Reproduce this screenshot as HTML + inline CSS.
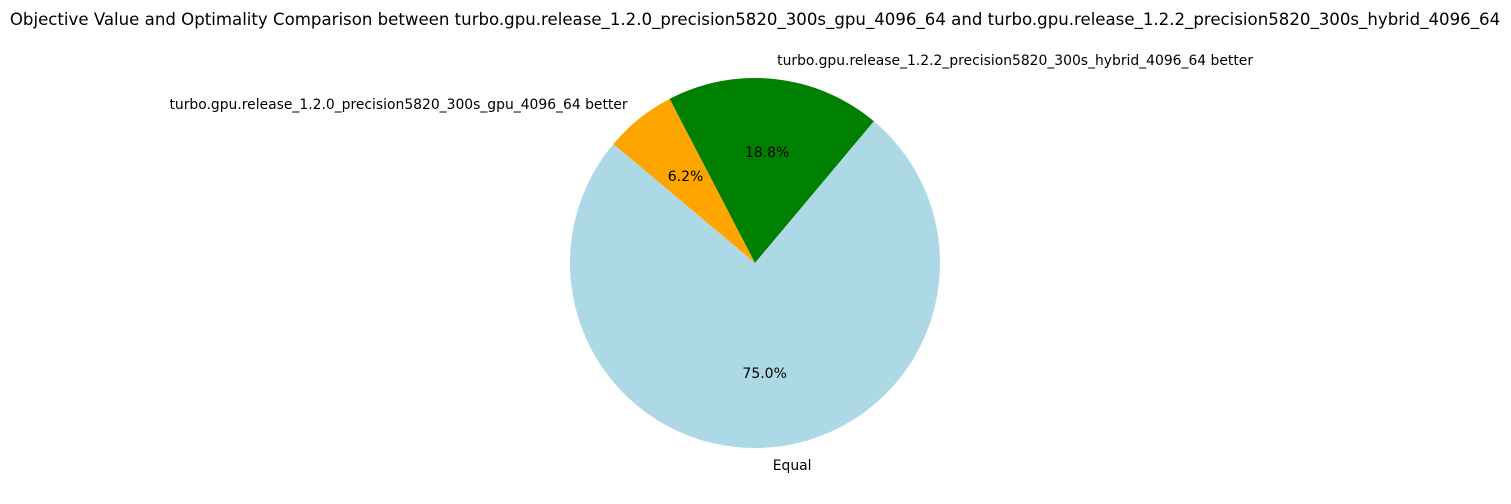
<!DOCTYPE html>
<html><head><meta charset="utf-8"><style>
html,body{margin:0;padding:0;background:#fff;}
svg{display:block;font-family:"DejaVu Sans","Liberation Sans",sans-serif;}
</style></head><body>
<svg id="chart" width="1511" height="504" viewBox="0 0 1511 504">
<text x="755" y="25" text-anchor="middle" font-size="16.6" fill="#000">Objective Value and Optimality Comparison between turbo.gpu.release_1.2.0_precision5820_300s_gpu_4096_64 and turbo.gpu.release_1.2.2_precision5820_300s_hybrid_4096_64</text>
<g id="slices"></g><g id="labels"></g>
</svg>
<script>
const categories = ["turbo.gpu.release_1.2.2_precision5820_300s_hybrid_4096_64 better","turbo.gpu.release_1.2.0_precision5820_300s_gpu_4096_64 better","Equal"];
const values = [18.75, 6.25, 75];
const colors = ["green","orange","lightblue"];
const sliceNames = ["slice-hybrid-better","slice-gpu-better","slice-equal"];
const startAngle = 50;
const cx = 755, cy = 263, r = 185;
const NS = "http://www.w3.org/2000/svg";
const slices = document.getElementById("slices"), labels = document.getElementById("labels");
const total = values.reduce((a,b)=>a+b,0);
function fmt(p){const s=p*10;const f=Math.floor(s);const d=s-f;let n;if(Math.abs(d-0.5)<1e-9){n=(f%2===0)?f:f+1;}else n=Math.round(s);return (n/10).toFixed(1)+"%";}
let a0 = startAngle;
function pt(deg, rr){const t=deg*Math.PI/180;return [cx+rr*Math.cos(t), cy-rr*Math.sin(t)];}
values.forEach((v,i)=>{
  const sweep = v/total*360, a1 = a0+sweep;
  const [x0,y0]=pt(a0,r),[x1,y1]=pt(a1,r);
  const p=document.createElementNS(NS,"path");
  p.setAttribute("d",`M${cx},${cy} L${x0},${y0} A${r},${r} 0 ${sweep>180?1:0} 0 ${x1},${y1} Z`);
  p.setAttribute("fill",colors[i]);
  
  
  slices.appendChild(p);
  const mid=(a0+a1)/2;
  const [lx,ly]=pt(mid,r*1.1);
  const t=document.createElementNS(NS,"text");
  t.setAttribute("x",lx);t.setAttribute("y",ly+4.5);
  t.setAttribute("font-size","13.9");
  t.setAttribute("text-anchor",Math.cos(mid*Math.PI/180)>=0?"start":"end");
  t.textContent=categories[i];
  
  
  labels.appendChild(t);
  const [px,py]=pt(mid,r*0.6);
  const q=document.createElementNS(NS,"text");
  q.setAttribute("x",px);q.setAttribute("y",py+4.5);
  q.setAttribute("font-size","14");q.setAttribute("text-anchor","middle");
  q.textContent=fmt(v/total*100);
  
  
  labels.appendChild(q);
  a0=a1;
});
</script>
</body></html>
